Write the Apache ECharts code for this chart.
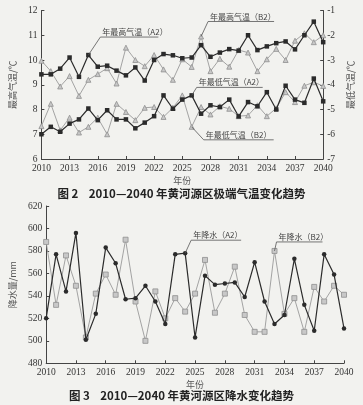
<!DOCTYPE html>
<html><head><meta charset="utf-8">
<script src="https://cdn.jsdelivr.net/npm/echarts@6/dist/echarts.min.js"></script>
<style>html,body{margin:0;padding:0;background:#f2f2ef}#c{width:363px;height:405px}</style>
</head><body><div id="c"></div><script>
const years = [2010,2011,2012,2013,2014,2015,2016,2017,2018,2019,2020,2021,2022,2023,2024,2025,2026,2027,2028,2029,2030,2031,2032,2033,2034,2035,2036,2037,2038,2039,2040];
// 年最高气温 (left axis, ℃)
const tmaxA2 = [9.42,9.42,9.65,10.1,9.32,10.2,9.73,9.77,9.57,9.38,9.7,9.17,10.0,10.24,10.19,10.07,10.1,10.6,10.13,10.3,10.44,10.38,11.0,10.4,10.55,10.68,10.75,10.43,11.0,11.55,10.72];
const tmaxB2 = [9.97,9.55,8.93,9.35,8.55,9.2,9.43,9.67,9.05,10.5,10.0,9.75,10.2,9.62,9.2,10.03,9.72,10.95,9.55,10.05,9.73,10.4,10.3,9.55,10.03,10.45,10.0,10.78,11.08,10.72,11.0];
// 年最低气温 (right axis, ℃)
const tminA2 = [-6.0,-5.7,-5.9,-5.57,-5.4,-4.96,-5.43,-5.03,-5.4,-5.4,-5.76,-5.53,-5.27,-4.43,-4.97,-4.6,-4.43,-5.17,-4.83,-4.9,-4.6,-5.28,-4.7,-4.87,-4.3,-5.0,-4.04,-4.6,-4.73,-3.75,-4.67];
const tminB2 = [-5.67,-4.77,-5.84,-5.33,-5.93,-5.7,-5.33,-6.0,-4.77,-5.1,-5.43,-4.93,-4.9,-5.3,-4.93,-4.43,-5.7,-4.9,-5.2,-4.87,-4.97,-5.27,-5.24,-4.83,-5.27,-4.95,-4.3,-4.7,-4.04,-3.9,-4.05];
// 年降水 (mm)
const precA2 = [520,577,544,596,501,524,583,569,537,538,549,535,515,577,578,503,558,550,551,552,539,570,535,515,523,573,532,509,577,559,511];
const precB2 = [588,532,576,549,503,542,559,541,590,535,500,544,520,538,526,542,572,525,542,566,523,508,508,580,524,538,508,548,535,549,541];

const leftTicks = [6,12,1], rightTicks = [-7,-1,1], precTicks = [480,620,20], yearTicks = [2010,2040,3];

const serif = 'Liberation Serif', cjk = 'Noto Sans CJK SC';
const dark = '#2b2b2b', gray = '#9a9a9a', txt = '#333';
const pairs = a => years.map((y,i)=>[y,a[i]]);

function xAx(gi){
  return {type:'value', gridIndex:gi, min:yearTicks[0], max:yearTicks[1], interval:yearTicks[2],
    axisLine:{lineStyle:{color:'#444',width:1}}, axisTick:{inside:true,length:3,lineStyle:{color:'#444'}},
    axisLabel:{fontFamily:serif,fontSize:9.5,color:txt,margin:4,formatter:v=>String(v)},
    splitLine:{show:false},
    name:'年份', nameLocation:'middle', nameGap:17, nameTextStyle:{fontFamily:cjk,fontSize:9,color:'#555'}};
}
function yAx(gi, t, name, pos, gap){
  return {type:'value', gridIndex:gi, position:pos, min:t[0], max:t[1], interval:t[2],
    axisLine:{show:true,lineStyle:{color:'#444',width:1}}, axisTick:{show:true,inside:true,length:3,lineStyle:{color:'#444'}},
    axisLabel:{fontFamily:serif,fontSize:9.5,color:txt,margin:4,formatter:v=>String(v)},
    splitLine:{show:false},
    name:name, nameLocation:'middle', nameGap:gap, nameRotate:90, nameTextStyle:{fontFamily:cjk,fontSize:9,color:'#555'}};
}
function ser(data, xi, yi, isA, sym){
  return {type:'line', xAxisIndex:xi, yAxisIndex:yi, data:pairs(data), symbol:sym,
    symbolSize: isA?4.5:5, showSymbol:true, animation:false,
    lineStyle:{color:isA?dark:gray, width:isA?1.2:0.9},
    itemStyle:isA?{color:dark}:{color:'#c8c8c8',borderColor:'#8f8f8f',borderWidth:0.8},
    z: isA?3:2};
}

const chart = echarts.init(document.getElementById('c'));
chart.setOption({
  backgroundColor:'#f2f2ef',
  animation:false,
  grid:[{left:38,right:31,top:10.5,height:148.5},{left:44,right:19,top:206,height:157.3}],
  xAxis:[xAx(0), xAx(1)],
  yAxis:[yAx(0,leftTicks,'最高气温/℃','left',18), yAx(0,rightTicks,'最低气温/℃','right',18), yAx(1,precTicks,'降水量/mm','left',24)],
  series:[
    ser(tmaxB2,0,0,false,'triangle'),
    ser(tmaxA2,0,0,true,'rect'),
    ser(tminB2,0,1,false,'triangle'),
    ser(tminA2,0,1,true,'rect'),
    ser(precB2,1,2,false,'rect'),
    ser(precA2,1,2,true,'circle')
  ]
});

// annotations: leader line from a data point to an underlined label
const notes = [
  {s:1, data:tmaxA2, yr:2015, dx:12, dy:-18, len:58, text:'年最高气温（A2）'},
  {s:0, data:tmaxB2, yr:2027, dx:7, dy:-15, len:66, text:'年最高气温（B2）'},
  {s:3, data:tminA2, yr:2026, dx:5, dy:-8, len:66, text:'年最低气温（A2）'},
  {s:2, data:tminB2, yr:2026, dx:12, dy:13, len:70, text:'年最低气温（B2）'},
  {s:5, data:precA2, yr:2024, dx:6, dy:-13, len:50, text:'年降水（A2）'},
  {s:4, data:precB2, yr:2033, dx:2, dy:-9, len:46, text:'年降水（B2）'}
];
const g = [];
notes.forEach(n=>{
  const i = years.indexOf(n.yr);
  const p = chart.convertToPixel({seriesIndex:n.s},[n.yr,n.data[i]]);
  const ex = p[0]+n.dx, ey = p[1]+n.dy;
  g.push({type:'polyline', shape:{points:[[p[0],p[1]],[ex,ey],[ex+n.len,ey]]}, style:{stroke:'#555',lineWidth:0.8,fill:null}, z:10});
  g.push({type:'text', x:ex+2, y:ey-1, style:{text:n.text, fill:'#444', font:'8px "Noto Sans CJK SC"', textAlign:'left', textVerticalAlign:'bottom'}, z:10});
});
g.push({type:'text', left:'center', top:188, style:{text:'图 2    2010—2040 年黄河源区极端气温变化趋势', fill:'#222', font:'bold 11.5px "Noto Sans CJK SC"'}});
g.push({type:'text', left:'center', top:390, style:{text:'图 3    2010—2040 年黄河源区降水变化趋势', fill:'#222', font:'bold 11.5px "Noto Sans CJK SC"'}});
chart.setOption({graphic:g});
</script></body></html>
